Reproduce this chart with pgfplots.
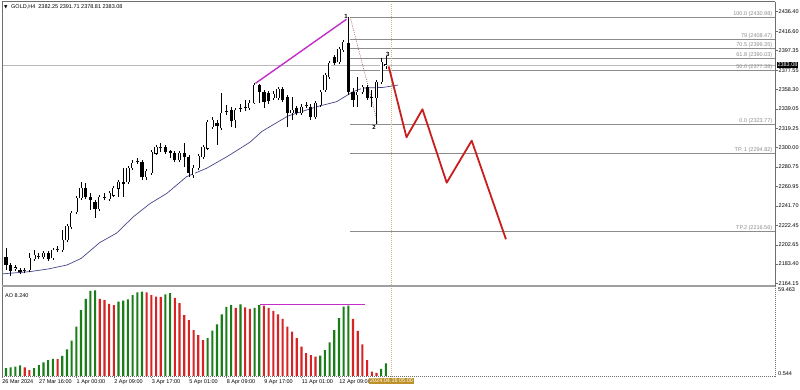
\documentclass[border=0pt]{standalone}
\usepackage{pgfplots}
\pgfplotsset{compat=1.18}
\usepackage{pgfplotstable}
\usepackage{fontspec}
\setmainfont{Liberation Sans}
\newfontfamily\dejavu{DejaVu Sans}
\newcommand\sm{\fontsize{5.5}{6.5}\selectfont}
\definecolor{aogreen}{RGB}{25,125,25}
\definecolor{aored}{RGB}{215,35,35}
\definecolor{zzred}{RGB}{200,30,30}
\definecolor{magline}{RGB}{195,45,200}
\definecolor{maline}{RGB}{70,70,140}
\definecolor{fibgray}{RGB}{140,140,140}
\definecolor{framegray}{RGB}{110,110,110}
\definecolor{vline}{RGB}{200,185,120}
\definecolor{tagbg}{RGB}{190,145,40}
\definecolor{diagc}{RGB}{160,90,90}

% white (bullish) candles
\pgfplotstableread{
k O H L C
0 2179.5 2199.5 2175.4 2189.5
3 2179.0 2182.5 2176.4 2180.0
5 2176.8 2179.5 2174.4 2177.2
6 2177.5 2194.5 2175.4 2189.5
7 2188.5 2197.5 2186.5 2192.5
8 2191.0 2194.5 2188.5 2191.5
9 2190.5 2196.5 2188.5 2194.5
11 2189.5 2199.5 2187.5 2197.5
12 2198.0 2201.5 2195.5 2198.5
13 2197.5 2217.6 2195.5 2207.5
14 2207.5 2223.6 2205.5 2221.6
15 2220.6 2236.6 2218.6 2234.6
16 2235.6 2251.6 2233.6 2249.6
17 2249.6 2265.7 2247.6 2259.6
21 2238.6 2252.6 2236.6 2250.6
22 2250.1 2254.6 2247.6 2250.6
23 2248.6 2256.6 2246.6 2254.6
24 2252.6 2261.6 2250.6 2259.6
25 2259.6 2267.7 2250.6 2265.7
27 2265.7 2281.7 2263.7 2279.7
28 2279.7 2287.7 2277.7 2284.7
29 2286.2 2289.7 2283.7 2286.7
31 2270.7 2278.7 2267.7 2276.7
32 2274.7 2297.7 2272.7 2295.7
33 2294.7 2302.7 2292.7 2300.7
34 2300.2 2304.7 2295.7 2300.7
38 2287.7 2296.7 2285.7 2294.7
41 2272.7 2282.7 2269.7 2279.7
42 2279.7 2293.7 2277.7 2291.7
43 2290.7 2302.7 2288.7 2300.7
44 2299.7 2327.8 2297.7 2325.8
45 2320.8 2330.8 2318.8 2327.8
47 2319.8 2354.9 2317.8 2334.8
48 2335.8 2342.9 2332.8 2336.3
50 2327.8 2339.9 2319.8 2337.9
51 2339.4 2343.9 2335.8 2339.9
52 2339.9 2347.9 2336.8 2340.4
53 2339.9 2347.9 2337.9 2344.9
54 2344.9 2364.9 2343.9 2362.9
58 2349.9 2356.9 2347.9 2353.9
59 2349.9 2360.9 2347.9 2358.9
62 2334.8 2350.9 2327.8 2337.9
64 2334.8 2343.9 2332.8 2340.9
65 2342.4 2345.9 2339.9 2342.9
67 2330.8 2346.9 2328.8 2344.9
68 2342.9 2357.9 2340.9 2355.9
69 2357.9 2374.9 2355.9 2372.9
70 2370.9 2387.0 2368.9 2385.0
72 2386.0 2401.0 2384.0 2399.0
73 2398.0 2408.0 2396.0 2406.0
76 2352.9 2370.9 2340.9 2355.9
77 2355.9 2362.9 2353.9 2360.9
80 2349.9 2367.9 2323.77 2365.9
81 2365.9 2390.0 2363.9 2386.0
82 2382.25 2391.71 2378.81 2383.08
}\up

% black (bearish) candles
\pgfplotstableread{
k O H L C
1 2190.5 2199.5 2177.4 2182.5
2 2182.5 2184.5 2171.4 2176.8
4 2177.5 2179.5 2173.4 2175.8
10 2194.5 2196.5 2186.5 2188.5
18 2259.6 2264.7 2248.6 2250.6
19 2250.6 2254.6 2237.6 2247.6
20 2245.6 2247.6 2229.6 2238.6
26 2265.7 2280.0 2250.6 2263.7
30 2285.7 2287.7 2267.7 2270.7
35 2300.7 2302.7 2293.7 2295.7
36 2296.7 2297.7 2289.7 2294.7
37 2294.7 2296.7 2285.7 2287.7
39 2294.7 2304.7 2280.7 2290.7
40 2290.7 2292.7 2270.7 2274.7
46 2324.8 2327.8 2302.7 2321.8
49 2337.9 2340.9 2320.8 2326.8
55 2362.9 2363.9 2344.9 2355.9
56 2355.9 2357.9 2339.9 2345.9
57 2354.9 2356.9 2343.9 2346.9
60 2358.9 2360.9 2345.9 2347.9
61 2350.9 2352.9 2320.8 2334.8
63 2339.9 2341.9 2332.8 2334.8
66 2340.9 2343.9 2327.8 2330.8
71 2391.0 2393.0 2383.0 2385.0
74 2405.0 2430.98 2352.9 2355.9
75 2355.9 2359.9 2340.9 2347.9
78 2360.9 2362.9 2347.9 2349.9
79 2350.9 2357.9 2340.9 2349.4
}\down

\begin{document}
\begin{tikzpicture}
\fill[white] (0pt,0pt) rectangle (800pt,390pt);

% ---------------- main price panel ----------------
\begin{axis}[
  at={(2pt,105pt)}, anchor=south west,
  width=773pt, height=282pt, scale only axis,
  xmin=0.15, xmax=164.97, ymin=2162.44, ymax=2445.12,
  axis line style={draw=none},
  xtick=\empty,
  ytick={2436.40,2416.60,2397.35,2377.55,2358.30,2339.05,2319.25,2300.00,2280.75,2260.95,2241.70,2222.45,2202.65,2183.40,2164.15},
  yticklabels={2436.40,2416.60,2397.35,2377.55,2358.30,2339.05,2319.25,2300.00,2280.75,2260.95,2241.70,2222.45,2202.65,2183.40,2164.15},
  ytick pos=right, yticklabel pos=right,
  tick align=outside, major tick length=2.5pt,
  tick style={framegray, line width=0.6pt},
  yticklabel style={font=\sm, inner sep=1pt},
  clip mode=individual,
]
% bid line
\addplot[gray!55, line width=0.6pt] coordinates {(0.15,2383.08) (164.97,2383.08)};
% fibonacci / target levels
\addplot[fibgray, line width=0.7pt] coordinates {(74.4,2430.98) (164.97,2430.98)};
\addplot[fibgray, line width=0.7pt] coordinates {(74.4,2408.47) (164.97,2408.47)};
\addplot[fibgray, line width=0.7pt] coordinates {(74.4,2399.35) (164.97,2399.35)};
\addplot[fibgray, line width=0.7pt] coordinates {(74.4,2390.03) (164.97,2390.03)};
\addplot[fibgray, line width=0.7pt] coordinates {(74.4,2377.38) (164.97,2377.38)};
\addplot[fibgray, line width=0.7pt] coordinates {(74.4,2323.77) (164.97,2323.77)};
\addplot[fibgray, line width=0.7pt] coordinates {(74.4,2294.82) (164.97,2294.82)};
\addplot[fibgray, line width=0.7pt] coordinates {(74.4,2216.56) (164.97,2216.56)};
% vertical dotted time line
\addplot[vline, line width=0.7pt, dash pattern=on 1pt off 1pt] coordinates {(83.2,2162.44) (83.2,2445.12)};
% diagonal dotted fib leg
\addplot[diagc, line width=0.6pt, dash pattern=on 1pt off 1.2pt] coordinates {(74.4,2430.98) (80.3,2323.77)};
% moving average
\addplot[maline, line width=0.7pt] coordinates {
(0,2173.5) (6,2175.8) (10,2178.5) (14,2182.5) (17,2189) (21,2205) (24.6,2214.5)
(28.2,2231) (31.7,2244) (35.3,2254.3) (39.5,2271) (43.8,2279.5) (48.1,2291)
(53,2305.5) (55.6,2316.5) (61.1,2331.8) (67.3,2341.2) (71.5,2346.2) (75,2356.2)
(77.1,2359.9) (81.4,2360.5) (84.6,2362.9)};
% wicks (low to high)
\addplot[black, line width=0.75pt, -, quiver={u=0, v=\thisrow{H}-\thisrow{L}}]
  table[x=k, y=L] {\up};
\addplot[black, line width=0.75pt, -, quiver={u=0, v=\thisrow{H}-\thisrow{L}}]
  table[x=k, y=L] {\down};
% black bodies
\addplot[black, line width=3.2pt, -, quiver={u=0, v={max(\thisrow{O}-\thisrow{C},1)}}]
  table[x=k, y expr={\thisrow{C}-max(1-(\thisrow{O}-\thisrow{C}),0)/2}] {\down};
% white bodies: black outline, then white interior
\addplot[black, line width=3.2pt, -, quiver={u=0, v=\thisrow{C}-\thisrow{O}+0.9}]
  table[x=k, y expr={\thisrow{O}-0.45}] {\up};
\addplot[white, line width=1.9pt, -, quiver={u=0, v={max(\thisrow{C}-\thisrow{O}-0.7,0.01)}}]
  table[x=k, y expr={\thisrow{O}+0.35}] {\up};
% magenta divergence line
\addplot[magline, line width=1.4pt] coordinates {(54.2,2364.6) (73.6,2428.8)};
% projected red zigzag
\addplot[zzred, line width=1.8pt, line join=round] coordinates {
(82.6,2381.5) (86.4,2310.5) (89.8,2338.6) (94.97,2265.0) (100.3,2307.1) (107.6,2208.3)};
% wave labels
\node[font=\bfseries\fontsize{6}{6}\selectfont, inner sep=0pt] at (axis cs:73.5,2431.5) {1};
\node[font=\bfseries\fontsize{6}{6}\selectfont, inner sep=0pt] at (axis cs:79.5,2320.1) {2};
\node[font=\bfseries\fontsize{6}{6}\selectfont, inner sep=0pt] at (axis cs:82.4,2394.0) {3};
% level labels
\foreach \lv/\tx in {2430.98/{100.0 (2430.98)}, 2408.47/{79 (2408.47)}, 2399.35/{70.5 (2399.35)},
  2390.03/{61.8 (2390.03)}, 2377.38/{50.0 (2377.38)}, 2323.77/{0.0 (2323.77)},
  2294.82/{TP. 1 (2294.82)}, 2216.56/{TP.2 (2216.56)}}{
  \edef\temp{\noexpand\node[anchor=south east, font=\noexpand\sm, text=fibgray, inner sep=0.4pt] at (axis cs:164.5,\lv) {\tx};}
  \temp
}
% current price tag
\node[anchor=west, fill=black, text=white, font=\sm, inner sep=0.8pt, xshift=1.5pt] at (axis cs:164.97,2383.08) {2383.08};
\end{axis}

% ---------------- AO panel ----------------
\begin{axis}[
  at={(2pt,13.3pt)}, anchor=south west,
  width=773pt, height=89.7pt, scale only axis,
  xmin=0.15, xmax=164.97, ymin=-0.6, ymax=58.6,
  axis line style={draw=none},
  ytick=\empty,
  xtick={0.15,8,16,24,32,40,48,56,64,72},
  xticklabels={26 Mar 2024,27 Mar 16:00,1 Apr 00:00,2 Apr 09:00,3 Apr 17:00,5 Apr 01:00,8 Apr 09:00,9 Apr 17:00,11 Apr 01:00,12 Apr 09:00},
  xtick pos=bottom, tick align=outside, major tick length=1.5pt,
  tick style={framegray, line width=0.5pt},
  xticklabel style={anchor=north west, inner sep=0.5pt, font=\sm, xshift=-0.3pt, yshift=-0.8pt},
  clip mode=individual,
]
\addplot[ybar, bar width=2.1pt, bar shift=0pt, fill=aogreen, draw=none] coordinates {
(1,5.0) (2,5.6) (3,6.0) (4,6.9) (7,5.0) (8,7.1) (9,8.9) (10,10.4) (11,11.1) (13,13.1)
(14,17.5) (15,23.2) (16,32.4) (17,43.4) (18,50.7) (19,56.0) (20,56.4) (25,48.9) (26,49.6)
(27,50.5) (28,53.3) (29,55.1) (30,55.5) (35,53.8) (36,54.5) (44,24.8) (45,29.8) (46,34.0)
(47,40.6) (48,45.4) (49,46.7) (51,47.2) (54,44.9) (55,46.7) (68,13.3) (69,17.0) (70,22.1)
(71,30.2) (72,38.0) (73,45.6) (74,46.3) (81,4.5) (82,8.24)};
\addplot[ybar, bar width=2.1pt, bar shift=0pt, fill=aored, draw=none] coordinates {
(5,5.6) (6,3.8) (12,11.0) (21,50.7) (22,50.0) (23,47.4) (24,46.7) (31,55.1) (32,53.3)
(33,52.2) (34,52.0) (37,51.5) (38,47.9) (39,40.1) (40,36.8) (41,30.2) (42,26.9) (43,23.6)
(50,44.9) (52,45.2) (53,44.1) (56,46.3) (57,44.9) (58,42.8) (59,40.6) (60,37.5) (61,32.4)
(62,29.1) (63,24.8) (64,19.2) (65,14.9) (66,13.7) (67,12.6) (75,37.5) (76,29.6) (77,20.8)
(78,10.4) (79,2.7) (80,2.0)};
\addplot[magline, line width=1.2pt] coordinates {(55.2,46.9) (77.5,46.9)};
\addplot[vline, line width=0.7pt, dash pattern=on 1pt off 1pt] coordinates {(83.2,-0.6) (83.2,58.6)};
\node[anchor=north, fill=tagbg, text=white, font=\sm, inner sep=0.8pt, yshift=-1.2pt] at (axis cs:83.2,-0.6) {2024.04.16 05:00};
\end{axis}

% ---------------- frame and texts ----------------
\draw[framegray, line width=1pt] (2pt,388pt) -- (775pt,388pt);
\draw[framegray, line width=1pt] (2pt,388.5pt) -- (2pt,12pt);
\draw[framegray, line width=0.8pt] (775pt,388pt) -- (775pt,104pt);
\draw[framegray, line width=0.7pt, dash pattern=on 1pt off 1pt] (775pt,104pt) -- (775pt,13.3pt);
\draw[gray!75, line width=2.2pt] (2pt,104.2pt) -- (775pt,104.2pt);
\draw[framegray, line width=0.7pt, dash pattern=on 1pt off 1pt] (2pt,13.3pt) -- (775pt,13.3pt);

\node[anchor=west, inner sep=0pt] at (4pt,383pt) {\dejavu\fontsize{4.5}{5}\selectfont ▼};
\node[anchor=west, font=\sm, inner sep=0pt] at (11pt,383pt) {GOLD,H4\ \ 2382.25 2391.71 2378.81 2383.08};
\node[anchor=west, font=\sm, inner sep=0pt] at (5pt,94pt) {AO 8.240};
\node[anchor=west, font=\sm, inner sep=0pt] at (778pt,100pt) {59.463};
\node[anchor=west, font=\sm, inner sep=0pt] at (778pt,16pt) {0.544};
\end{tikzpicture}
\end{document}
